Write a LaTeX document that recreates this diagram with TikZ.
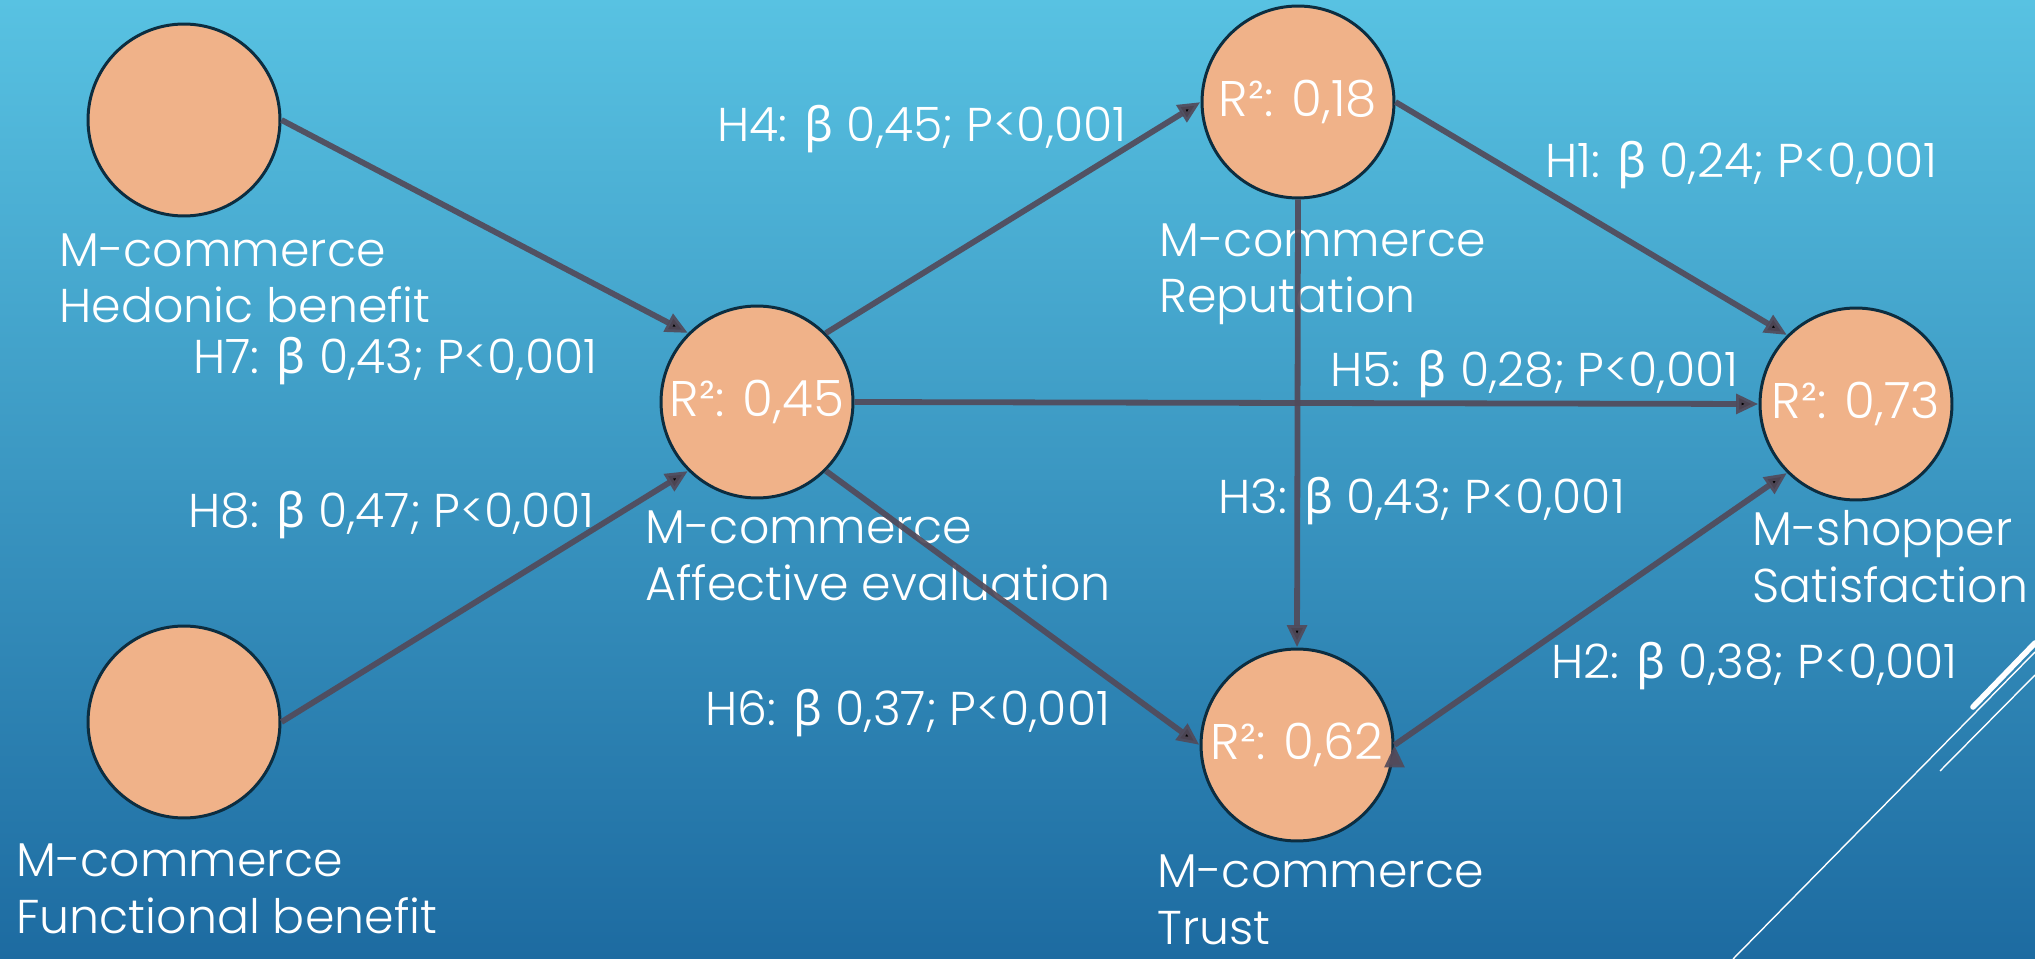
\documentclass[tikz,border=0pt]{standalone}
\usepackage{fontspec}
\setmainfont{Poppins Light}
\newfontfamily\grkfont{Noto Sans}
\usetikzlibrary{arrows.meta}

\definecolor{peach}{HTML}{F0B289}
\definecolor{rimnavy}{HTML}{0C2D40}
\definecolor{linkgray}{HTML}{524A5A}
\definecolor{skytop}{HTML}{58C2E2}
\definecolor{skymid}{HTML}{3A9CC8}
\definecolor{skybottom}{HTML}{1D6BA1}

\newcommand{\bet}{{\grkfont β}}

\begin{document}
\begin{tikzpicture}[x=0.02cm,y=-0.02cm,
            construct/.style={circle,draw=rimnavy,line width=1.7pt,fill=peach,minimum size=3.84cm,inner sep=0pt,text=white,font=\fontsize{28.5}{34}\selectfont},
            caption/.style={anchor=base west,align=left,inner sep=0pt,text=white,font=\fontsize{27}{32.4}\selectfont},
            link/.style={-{Triangle[length=0.45cm,width=0.38cm]},draw=linkgray,line width=3.3pt,draw opacity=0.92}]

        % Background
        \useasboundingbox (0,0) rectangle (2035,959);
        \shade[top color=skytop,middle color=skymid,bottom color=skybottom] (0,0) rectangle (2035,959);
        \draw[white,line width=0.8pt] (1733,959) -- (2035,652);
        \draw[white,line width=0.8pt] (1940,771) -- (2035,675);
        \draw[white,line width=3.2pt,line cap=round] (1973,707) -- (2035,643);

        % Define constructs
        \node[construct] (hed) at (184,120) {};
        \node[construct] (fun) at (184,722) {};
        \node[construct] (aff) at (757,402) {R²: 0,45};
        \node[construct] (rep) at (1298,102) {R²: 0,18};
        \node[construct] (tru) at (1297,745) {R²: 0,62};
        \node[construct] (sat) at (1856,404) {R²: 0,73};

        % Names (anchored at the last line)
        \node[caption] (hedname) at (59,323) {M-commerce\\Hedonic benefit};
        \node[caption] (funname) at (16,933) {M-commerce\\Functional benefit};
        \node[caption] (affname) at (645,600) {M-commerce\\Affective evaluation};
        \node[caption] (repname) at (1159,313) {M-commerce\\Reputation};
        \node[caption] (truname) at (1157,944) {M-commerce\\Trust};
        \node[caption] (satname) at (1752,602) {M-shopper\\Satisfaction};

        % Path coefficients
        \node[caption] (h4) at (717,142) {H4: \bet{} 0,45; P<0,001};
        \node[caption] (h1) at (1545,178) {H1: \bet{} 0,24; P<0,001};
        \node[caption] (h7) at (193,374) {H7: \bet{} 0,43; P<0,001};
        \node[caption] (h5) at (1330,387) {H5: \bet{} 0,28; P<0,001};
        \node[caption] (h8) at (188,527) {H8: \bet{} 0,47; P<0,001};
        \node[caption] (h3) at (1218,513) {H3: \bet{} 0,43; P<0,001};
        \node[caption] (h2) at (1551,678) {H2: \bet{} 0,38; P<0,001};
        \node[caption] (h6) at (705,725) {H6: \bet{} 0,37; P<0,001};

        % Draw links
        \path[link]
            (hed.east) edge (aff.north west)
            (fun.east) edge (aff.south west)
            (aff.north east) edge (rep.west)
            (aff.east) edge (sat.west)
            (aff.south east) edge (tru.west)
            (rep.east) edge (sat.north west)
            (rep.south) edge (tru.north)
            (tru.east) edge (sat.south west);

\end{tikzpicture}
\end{document}
